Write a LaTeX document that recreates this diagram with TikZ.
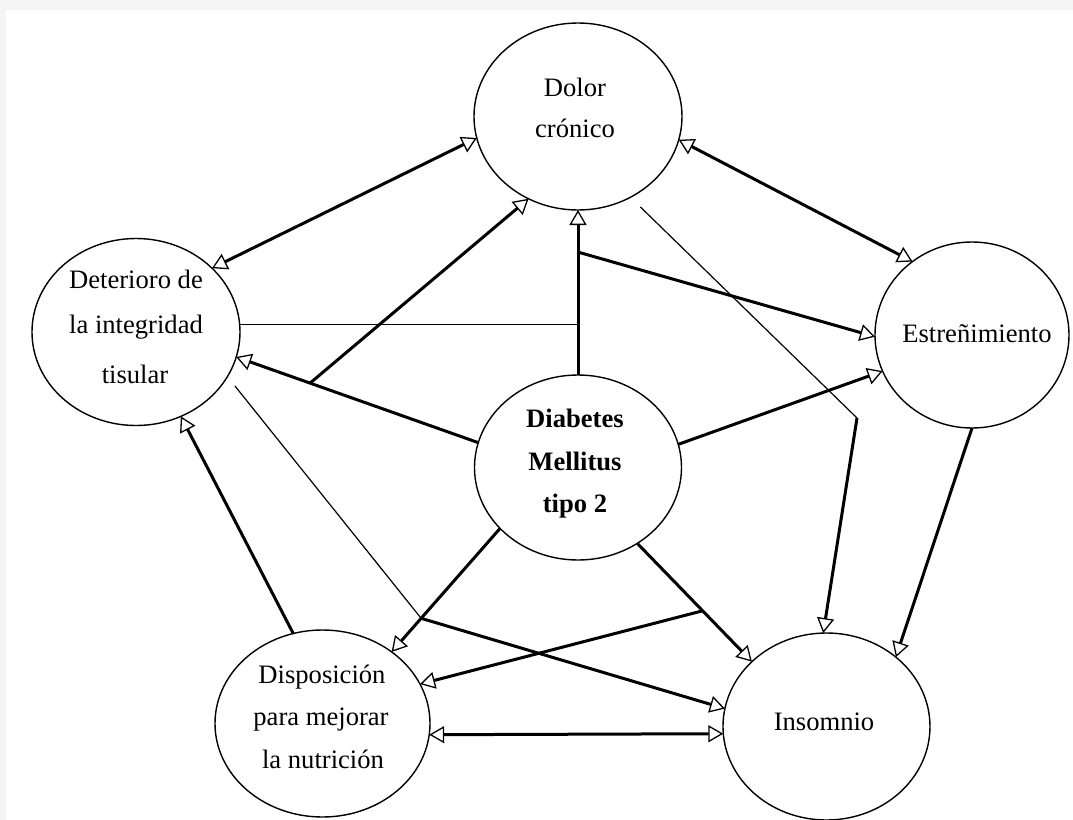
\documentclass[tikz,border=0pt]{standalone}
\usepackage{fontspec}
\setmainfont{Liberation Serif}
\usetikzlibrary{shapes.geometric,arrows.meta,calc}
\begin{document}
\begin{tikzpicture}[x=0.5pt,y=-0.5pt,
  ell/.style={ellipse,draw,line width=0.7pt,inner sep=0pt,outer sep=0pt},
  lbl/.style={anchor=base,inner sep=0pt,font=\fontsize{13.3}{16}\selectfont},
  blbl/.style={anchor=base,inner sep=0pt,font=\fontsize{13.3}{16}\selectfont\bfseries},
  thk/.style={line width=1.5pt},
  thn/.style={line width=0.6pt},
  >={Triangle[open,length=7.5pt,width=8.5pt,line width=0.65pt]}
]
\useasboundingbox (0,0) rectangle (1073,820);
\fill[black!4] (0,0) rectangle (1073,820);
\fill[white] (6,10) rectangle (1073,820);

% ellipses
\node[ell,minimum width=104pt,minimum height=93.5pt] (D) at (578,116.5) {};
\node[ell,minimum width=104pt,minimum height=93.5pt] (T) at (136,332) {};
\node[ell,minimum width=97pt,minimum height=93pt] (E) at (972,335) {};
\node[ell,minimum width=103.5pt,minimum height=92.5pt] (M) at (578,467.5) {};
\node[ell,minimum width=107.5pt,minimum height=93.5pt] (P) at (322.5,723.5) {};
\node[ell,minimum width=103.5pt,minimum height=93.5pt] (I) at (826.5,726.5) {};

% texts
\node[lbl] (D1) at (575,96) {Dolor};
\node[lbl] (D2) at (575,137) {crónico};
\node[lbl] (T1) at (136,288) {Deterioro de};
\node[lbl] (T2) at (136,333) {la integridad};
\node[lbl] (T3) at (135,383) {tisular};
\node[lbl] (E1) at (977,342) {Estreñimiento};
\node[blbl] (M1) at (575,427) {Diabetes};
\node[blbl] (M2) at (575,470) {Mellitus};
\node[blbl] (M3) at (575,512) {tipo 2};
\node[lbl] (P1) at (322,683) {Disposición};
\node[lbl] (P2) at (321,725) {para mejorar};
\node[lbl] (P3) at (323,768) {la nutrición};
\node[lbl] (I1) at (824,730) {Insomnio};

% connectors
\draw[thk,<->] (D.192.6) -- (T.40.2);
\draw[thk,<->] (D.347.4) -- (E.129.2);

\coordinate (J1) at ($(M.north)!0.745!(D.south)$);
\draw[thk,->] (M.north) -- (D.south);
\draw[thk,->] (J1) -- (E.181);
\draw[thn] (T.4) -- (T.4 -| M.north);

\draw[thk,->] (M.166.9) -- (T.-14.4);
\coordinate (B1) at ($(M.166.9)!0.695!(T.-14.4)$);
\draw[thk,->] (B1) -- (D.239);

\draw[thk,->] (M.218.9) -- (P.46);
\coordinate (K1) at ($(M.218.9)!0.728!(P.46)$);
\draw[thn,shorten <=6pt] (T.-26.6) -- (K1);
\draw[thk,->] (K1) -- (I.170.1);

\draw[thk,->] (M.-52.3) -- (I.139.6);
\coordinate (K2) at ($(M.-52.3)!0.57!(I.139.6)$);
\draw[thk,->] (K2) -- (P.22.3);

\draw[thk,<->] (P.-6.8) -- (I.184.8);
\draw[thk,->] (P.108.5) -- (T.-62.7);

\coordinate (K3) at (857,418);
\draw[thn,shorten <=7pt] (D.-57.5) -- (K3);
\draw[thk,->] (K3) -- (I.92.7);

\draw[thk,->] (E.south) -- (I.45);
\draw[thk,->] (M.13.1) -- (E.202.9);
\end{tikzpicture}
\end{document}
